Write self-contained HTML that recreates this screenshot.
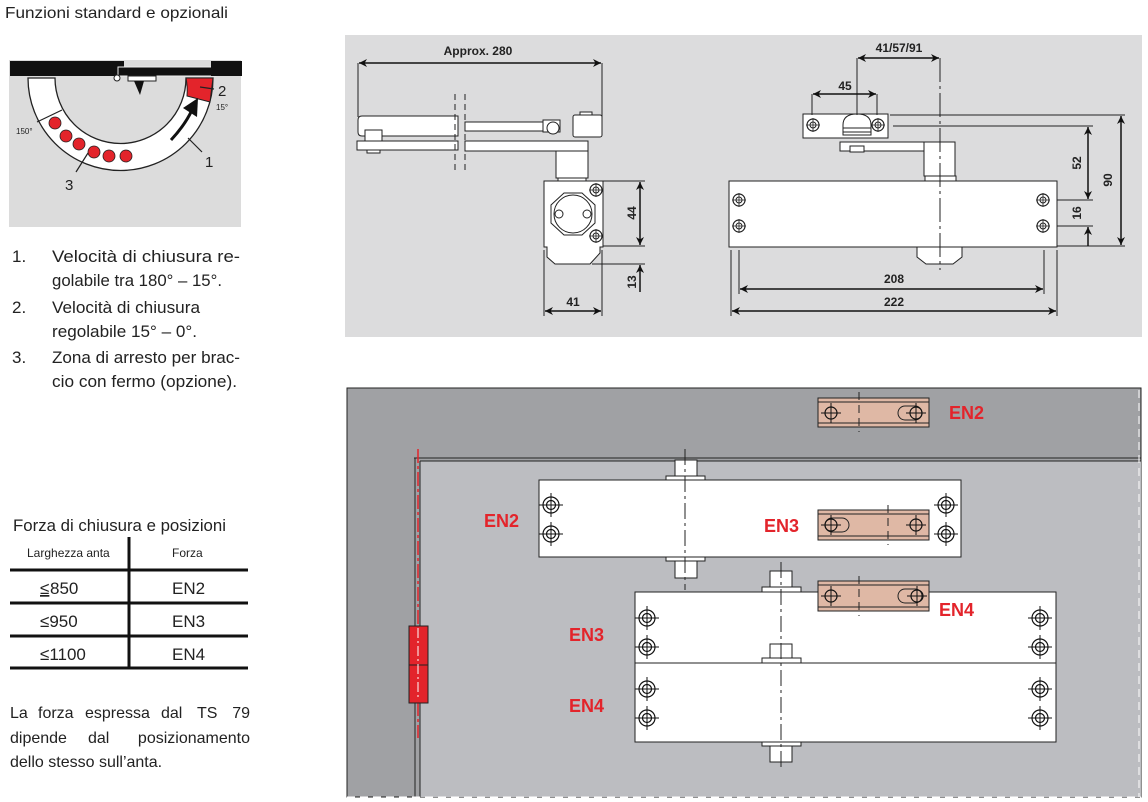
<!DOCTYPE html>
<html><head><meta charset="utf-8"><style>
html,body{margin:0;padding:0;background:#fff;width:1148px;height:802px;overflow:hidden}
svg{display:block}
.t{font-family:"Liberation Sans",sans-serif;fill:#222}
.d{font-family:"Liberation Sans",sans-serif;font-weight:bold;font-size:12px;fill:#222}
.r{font-family:"Liberation Sans",sans-serif;font-weight:bold;font-size:18px;fill:#e3242b}
</style></head><body>
<svg width="1148" height="802" viewBox="0 0 1148 802" xmlns="http://www.w3.org/2000/svg">
<defs>
<g id="h"><circle r="8" fill="none" stroke="#111" stroke-width="1.2"/><circle r="4.5" fill="none" stroke="#111" stroke-width="1.2"/><path d="M-12 0H12M0 -12V12" stroke="#111" stroke-width="1"/></g>
<g id="s"><circle r="6" fill="#fff" stroke="#222" stroke-width="1.2"/><circle r="3" fill="none" stroke="#222"/><path d="M-7 0H7M0 -7V7" stroke="#222" stroke-width=".8"/></g>
<g id="bh"><circle r="6" fill="none" stroke="#111" stroke-width="1.2"/><path d="M-10 0H10M0 -10V10" stroke="#111"/></g>
<marker id="a" viewBox="0 0 10 10" refX="10" refY="5" markerWidth="10" markerHeight="8" orient="auto-start-reverse" markerUnits="userSpaceOnUse"><path d="M0 0L10 5L0 10L3 5Z" fill="#111"/></marker>
</defs>

<text class="t" x="5" y="18" font-size="16" textLength="223" lengthAdjust="spacingAndGlyphs">Funzioni standard e opzionali</text>

<!-- top-left diagram -->
<rect x="9" y="60" width="232" height="167" fill="#dcdcdc"/>
<path d="M28 78 A92.5 92.5 0 0 0 213 78 L186 78 A65.5 65.5 0 0 1 55 78 Z" fill="#fff" stroke="#222" stroke-width="1.3"/>
<path d="M186 78 L213 78 L210 102 L187 96 A65.5 65.5 0 0 0 186 78Z" fill="#e3242b" stroke="#222" stroke-width="1"/>
<line x1="37" y1="122" x2="62" y2="110" stroke="#222" stroke-width="1.2"/>
<g fill="#e3242b" stroke="#222" stroke-width=".8"><circle cx="55" cy="123" r="6"/><circle cx="66" cy="136" r="6"/><circle cx="79" cy="144" r="6"/><circle cx="94" cy="152" r="6"/><circle cx="109" cy="156" r="6"/><circle cx="126" cy="156" r="6"/></g>
<path d="M171 140 Q185 125 192 110" fill="none" stroke="#111" stroke-width="3"/>
<path d="M183 108 L198 98 L197 117Z" fill="#111"/>
<rect x="10" y="61" width="114" height="15" fill="#111"/>
<rect x="118" y="67" width="98" height="9" fill="#111" stroke="#eee" stroke-width="1"/>
<rect x="211" y="61" width="31" height="15" fill="#111"/>
<circle cx="117" cy="78" r="3" fill="#fff" stroke="#222"/>
<rect x="128" y="76" width="28" height="5" fill="#fff" stroke="#222"/>
<path d="M134 81 L140 95 L144 81Z" fill="#111"/>
<path d="M200 87 L214 89 M188 138 L202 152 M88 153 L76 172" stroke="#222" stroke-width="1.2"/>
<text class="t" x="218" y="96" font-size="15">2</text>
<text class="t" x="216" y="110" font-size="8" font-family="Liberation Serif">15°</text>
<text class="t" x="16" y="134" font-size="8" font-family="Liberation Serif">150°</text>
<text class="t" x="205" y="167" font-size="15">1</text>
<text class="t" x="65" y="190" font-size="15">3</text>

<g class="t" font-size="17">
<text x="12" y="262">1.</text><text x="52" y="262" textLength="188" lengthAdjust="spacingAndGlyphs">Velocità di chiusura re-</text>
<text x="52" y="286" textLength="170" lengthAdjust="spacingAndGlyphs">golabile tra 180° – 15°.</text>
<text x="12" y="313">2.</text><text x="52" y="313" textLength="148" lengthAdjust="spacingAndGlyphs">Velocità di chiusura</text>
<text x="52" y="337" textLength="145" lengthAdjust="spacingAndGlyphs">regolabile 15° – 0°.</text>
<text x="12" y="363">3.</text><text x="52" y="363" textLength="188" lengthAdjust="spacingAndGlyphs">Zona di arresto per brac-</text>
<text x="52" y="387" textLength="185" lengthAdjust="spacingAndGlyphs">cio con fermo (opzione).</text>
<text x="13" y="531" textLength="213" lengthAdjust="spacingAndGlyphs">Forza di chiusura e posizioni</text>
<text x="27" y="557" font-size="12">Larghezza anta</text>
<text x="172" y="557" font-size="12">Forza</text>
<text x="40" y="594" text-decoration="underline">≤</text><text x="50" y="594">850</text><text x="172" y="594">EN2</text>
<text x="40" y="627">≤950</text><text x="172" y="627">EN3</text>
<text x="40" y="660">≤1100</text><text x="172" y="660">EN4</text>
</g>
<g class="t" font-size="16">
<text x="10" y="718">La</text>
<text x="38" y="718">forza</text>
<text x="85" y="718">espressa</text>
<text x="161" y="718">dal</text>
<text x="197" y="718">TS</text>
<text x="250" y="718" text-anchor="end">79</text>
<text x="10" y="743">dipende</text>
<text x="88" y="743">dal</text>
<text x="250" y="743" text-anchor="end">posizionamento</text>
<text x="10" y="767">dello stesso sull’anta.</text>
</g>
<g stroke="#111" stroke-width="3"><path d="M129 537V668M10 570H248M10 603H248M10 636H248M10 668H248"/></g>

<!-- top-right technical drawing -->
<rect x="345" y="35" width="797" height="302" fill="#dcdcdd"/>
<g stroke="#222" stroke-width="1" fill="#fff">
<path d="M358 63V117M602 63V117" fill="none"/>
<path d="M362 116H458V136H362Q358 136 358 132V120Q358 116 362 116Z"/>
<rect x="357" y="141" width="101" height="9"/>
<rect x="365" y="130" width="17" height="11"/>
<rect x="367" y="150" width="13" height="3"/>
<path d="M455 94V172M465 94V172" stroke-dasharray="6,4" fill="none"/>
<rect x="465" y="122" width="80" height="9"/>
<rect x="465" y="141" width="123" height="10"/>
<rect x="573" y="115" width="29" height="22" rx="2"/>
<rect x="543" y="120" width="17" height="12"/>
<circle cx="553" cy="128" r="6"/>
<rect x="580" y="112" width="12" height="3"/>
<rect x="556" y="151" width="32" height="27"/>
<rect x="558" y="178" width="28" height="3"/>
<path d="M544 181H603V247H600V253L590 264H555L547 257V247H544Z"/>
<polygon points="564,193 582,193 595,205 595,223 582,235 564,235 551,223 551,205"/>
<circle cx="573" cy="214" r="19"/>
<circle cx="559" cy="214" r="4"/><circle cx="587" cy="214" r="4"/>
<path d="M603 181H645M603 246H645M592 264H645M544 250V316M602 250V316" fill="none"/>
<path d="M729 181H1057V247H729Z"/>
<path d="M917 247H962V257L953 264H926L917 257Z"/>
<rect x="840" y="142" width="115" height="9"/>
<rect x="850" y="146" width="14" height="6"/>
<rect x="924" y="142" width="31" height="34"/>
<rect x="925" y="176" width="31" height="5"/>
<rect x="803" y="114" width="85" height="24"/>
<path d="M843 135V125Q843 114 857 114Q871 114 871 125V135Z"/>
<path d="M843 128H871M843 132H871" fill="none"/>
<path d="M857 58V115M812 94V115M877 94V115M893 126H1093M890 115H1125M1057 200H1093M1057 226H1093M1057 246H1125M731 250V316M1057 250V316M739 250V294M1044 250V294" fill="none"/>
<path d="M940 58V270" stroke-dasharray="24,4,3,4" fill="none"/>
</g>
<use href="#s" x="596" y="190"/><use href="#s" x="596" y="236"/>
<use href="#s" x="739" y="200"/><use href="#s" x="739" y="226"/><use href="#s" x="1043" y="200"/><use href="#s" x="1043" y="226"/>
<use href="#s" x="813" y="125"/><use href="#s" x="878" y="125"/>
<g stroke="#111" stroke-width="1.5" marker-start="url(#a)" marker-end="url(#a)" fill="none">
<path d="M359 63H601"/><path d="M640 182V245"/><path d="M545 311H601"/>
<path d="M858 58H939"/><path d="M813 94H876"/>
<path d="M1088 127V199"/><path d="M1121 116V245"/>
<path d="M740 289H1043"/><path d="M732 311H1056"/>
</g>
<g stroke="#111" stroke-width="1.5" fill="none">
<path d="M640 265V292" marker-start="url(#a)"/>
<path d="M1088 227V246" marker-start="url(#a)"/>
</g>
<text class="d" x="478" y="55" text-anchor="middle">Approx.  280</text>
<text class="d" x="573" y="306" text-anchor="middle">41</text>
<text class="d" x="899" y="52" text-anchor="middle">41/57/91</text>
<text class="d" x="845" y="90" text-anchor="middle">45</text>
<text class="d" x="894" y="283" text-anchor="middle">208</text>
<text class="d" x="894" y="306" text-anchor="middle">222</text>
<text class="d" transform="translate(636,213) rotate(-90)" text-anchor="middle">44</text>
<text class="d" transform="translate(636,282) rotate(-90)" text-anchor="middle">13</text>
<text class="d" transform="translate(1081,163) rotate(-90)" text-anchor="middle">52</text>
<text class="d" transform="translate(1081,213) rotate(-90)" text-anchor="middle">16</text>
<text class="d" transform="translate(1112,180) rotate(-90)" text-anchor="middle">90</text>

<!-- bottom diagram -->
<rect x="347" y="388" width="794" height="409" fill="#a0a1a4" stroke="#222" stroke-width="1"/>
<rect x="420" y="461" width="721" height="336" fill="#bcbdc1"/>
<path d="M414 458H1141M420 461H1141M415 458V797M420 461V797" stroke="#222" fill="none"/>
<path d="M347 797H1141M1139 390V797" stroke="#fff" stroke-dasharray="8,5" fill="none"/>
<path d="M418 449V738" stroke="#e3242b" stroke-width="1.5" stroke-dasharray="14,3,3,3" fill="none"/>
<rect x="409" y="626" width="19" height="77" fill="#e3242b" stroke="#222"/>
<path d="M409 665H428" stroke="#222"/>
<path d="M418 628V700" stroke="#fff" stroke-dasharray="10,3,2,3"/>

<g stroke="#222" stroke-width="1" fill="#fff">
<rect x="539" y="480" width="422" height="77"/>
<rect x="675" y="460" width="22" height="16"/><rect x="666" y="476" width="39" height="4"/>
<rect x="666" y="557" width="39" height="4"/><rect x="675" y="561" width="22" height="17"/>
<rect x="635" y="592" width="421" height="150"/>
<path d="M635 663H1056" fill="none"/>
<rect x="770" y="571" width="22" height="16"/><rect x="762" y="587" width="39" height="5"/>
<rect x="770" y="644" width="22" height="14"/><rect x="762" y="658" width="39" height="5"/>
<rect x="762" y="742" width="39" height="4"/><rect x="770" y="746" width="22" height="16"/>
<path d="M685 449V590M781 562V768" stroke-dasharray="16,4,3,4" fill="none"/>
</g>
<g fill="#dfb8a5" stroke="#222" stroke-width="1">
<rect x="818" y="398" width="111" height="29"/><path d="M818 402H929M818 423H929" fill="none"/>
<rect x="818" y="510" width="111" height="30"/><path d="M818 514H929M818 536H929" fill="none"/>
<rect x="818" y="581" width="111" height="30"/><path d="M818 585H929M818 607H929" fill="none"/>
<path d="M905 406H915A7 7 0 0 1 915 420H905A7 7 0 0 1 905 406Z"/>
<path d="M832 518H842A7 7 0 0 1 842 532H832A7 7 0 0 1 832 518Z"/>
<path d="M905 589H915A7 7 0 0 1 915 603H905A7 7 0 0 1 905 589Z"/>
<path d="M859 392V432M888 505V545M859 576V616" stroke-dasharray="8,5" fill="none"/>
</g>
<use href="#bh" x="831" y="413"/><use href="#bh" x="916" y="413"/>
<use href="#bh" x="831" y="525"/><use href="#bh" x="916" y="525"/>
<use href="#bh" x="831" y="596"/><use href="#bh" x="917" y="596"/>
<use href="#h" x="551" y="505"/><use href="#h" x="551" y="534"/><use href="#h" x="946" y="505"/><use href="#h" x="946" y="534"/>
<use href="#h" x="647" y="618"/><use href="#h" x="647" y="647"/><use href="#h" x="647" y="689"/><use href="#h" x="647" y="718"/>
<use href="#h" x="1040" y="618"/><use href="#h" x="1040" y="647"/><use href="#h" x="1040" y="689"/><use href="#h" x="1040" y="718"/>
<text class="r" x="484" y="527">EN2</text>
<text class="r" x="569" y="641">EN3</text>
<text class="r" x="569" y="712">EN4</text>
<text class="r" x="949" y="419">EN2</text>
<text class="r" x="764" y="532">EN3</text>
<text class="r" x="939" y="616">EN4</text>
</svg>
</body></html>
